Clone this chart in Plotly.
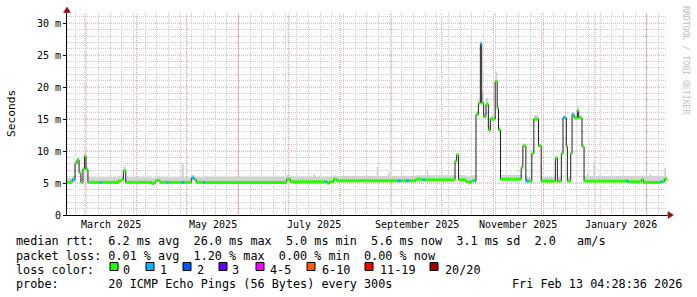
import pandas as pd
import plotly.graph_objects as go

# ---------------- data ----------------
range_start = "2025-02-18 04:28:36"
range_end = "2026-02-13 04:28:36"

seg_start = [
    "2025-02-18 04:28", "2025-02-21 06:00", "2025-02-23 00:00", "2025-02-24 06:00", "2025-02-25 10:00",
    "2025-02-26 12:00", "2025-02-27 18:00", "2025-02-28 18:00", "2025-03-01 14:00", "2025-03-02 18:00",
    "2025-03-10 00:00", "2025-03-11 00:00", "2025-03-21 00:00", "2025-03-22 16:00", "2025-03-24 00:00",
    "2025-03-25 10:00", "2025-04-10 00:00", "2025-04-11 12:00", "2025-04-12 12:00", "2025-04-15 00:00",
    "2025-04-19 00:00", "2025-04-20 00:00", "2025-04-28 00:00", "2025-04-29 06:00", "2025-05-04 00:00",
    "2025-05-05 12:00", "2025-05-06 18:00", "2025-05-11 00:00", "2025-05-12 00:00", "2025-06-30 00:00",
    "2025-07-02 06:00", "2025-07-16 00:00", "2025-07-17 00:00", "2025-07-23 06:00", "2025-07-24 06:00",
    "2025-07-25 18:00", "2025-07-28 06:00", "2025-07-30 00:00", "2025-08-23 00:00", "2025-08-24 00:00",
    "2025-08-30 00:00", "2025-08-31 00:00", "2025-09-04 12:00", "2025-09-06 12:00", "2025-09-09 12:00",
    "2025-09-11 06:00", "2025-09-15 12:00", "2025-09-18 12:00", "2025-09-19 12:00", "2025-09-21 00:00",
    "2025-09-22 00:00", "2025-09-23 00:00", "2025-10-09 00:00", "2025-10-10 00:00", "2025-10-11 03:00",
    "2025-10-15 14:00", "2025-10-17 10:00", "2025-10-18 08:00", "2025-10-19 05:00", "2025-10-20 14:00",
    "2025-10-21 14:00", "2025-10-23 00:00", "2025-10-24 05:00", "2025-10-25 00:00", "2025-10-26 05:00",
    "2025-10-27 14:00", "2025-10-29 00:00", "2025-10-30 05:00", "2025-11-02 02:00", "2025-11-03 07:00",
    "2025-11-04 02:00", "2025-11-05 07:00", "2025-11-17 17:00", "2025-11-18 17:00", "2025-11-20 12:00",
    "2025-11-22 02:00", "2025-11-24 02:00", "2025-11-25 07:00", "2025-11-28 02:00", "2025-11-29 17:00",
    "2025-12-08 05:00", "2025-12-09 10:00", "2025-12-11 19:00", "2025-12-12 19:00", "2025-12-14 05:00",
    "2025-12-14 19:00", "2025-12-15 10:00", "2025-12-17 10:00", "2025-12-18 05:00", "2025-12-19 10:00",
    "2025-12-21 10:00", "2025-12-22 05:00", "2025-12-24 05:00", "2025-12-25 10:00", "2025-12-27 00:00",
    "2025-12-28 00:00", "2025-12-31 00:00", "2026-01-01 00:00", "2026-01-03 12:00", "2026-01-04 12:00",
    "2026-01-19 20:00", "2026-01-21 00:00", "2026-01-28 20:00", "2026-01-30 00:00", "2026-02-02 12:00",
    "2026-02-03 12:00", "2026-02-09 10:00", "2026-02-10 14:00", "2026-02-11 14:00", "2026-02-12 14:00",
]

median_ms = [
    5.1, 5.5, 8.1, 8.6, 6.6,
    5.1, 7.2, 9.2, 7.1, 5.1,
    5.1, 5.1, 5.3, 5.5, 6.9,
    5.1, 4.9, 5.1, 5.4, 5.1,
    5.1, 5.1, 5.1, 5.1, 5.8,
    5.5, 5.1, 5.1, 5.1, 5.6,
    5.2, 5.2, 5.2, 5.2, 5.0,
    5.2, 5.6, 5.35, 5.35, 5.35,
    5.35, 5.35, 5.35, 5.35, 5.35,
    5.35, 5.6, 5.5, 5.5, 5.5,
    5.5, 5.5, 8.4, 9.4, 5.5,
    5.2, 5.0, 5.2, 5.4, 5.3,
    15.7, 17.5, 26.8, 17.5, 15.4,
    17.3, 13.3, 15.0, 20.9, 16.7,
    13.3, 5.6, 7.4, 10.8, 5.3,
    5.3, 9.6, 15.0, 10.8, 5.3,
    8.9, 5.3, 9.6, 15.2, 15.2,
    10.7, 5.3, 9.6, 15.7, 15.2,
    16.3, 15.2, 10.7, 5.3, 5.3,
    5.3, 5.3, 5.3, 5.3, 5.3,
    5.3, 5.2, 5.5, 5.1, 5.1,
    5.1, 5.2, 5.2, 5.6, 5.6,
]

lost_pings = [
    0, 1, 0, 0, 0,
    0, 0, 0, 0, 0,
    1, 0, 0, 0, 0,
    0, 0, 0, 0, 0,
    1, 0, 1, 0, 1,
    0, 0, 1, 0, 0,
    0, 0, 0, 1, 0,
    0, 0, 0, 0, 0,
    0, 0, 1, 0, 1,
    0, 0, 0, 1, 0,
    0, 0, 0, 0, 0,
    0, 0, 0, 0, 1,
    0, 0, 1, 0, 0,
    0, 0, 0, 0, 0,
    0, 0, 0, 0, 1,
    0, 0, 0, 0, 0,
    0, 0, 0, 1, 0,
    0, 0, 0, 1, 0,
    0, 0, 0, 0, 0,
    0, 0, 0, 0, 0,
    1, 0, 0, 0, 0,
    0, 1, 0, 0, 0,
]

smoke_max_ms = [
    5.8, 6.1, 8.5, 8.9, 7.0,
    5.8, 7.6, 9.4, 7.5, 5.9,
    5.9, 5.9, 6.0, 6.1, 7.6,
    5.9, 5.8, 5.9, 6.0, 5.9,
    5.9, 5.9, 8.1, 5.9, 6.3,
    6.0, 5.9, 5.9, 6.0, 6.3,
    6.0, 6.4, 6.0, 6.0, 6.0,
    6.0, 6.2, 6.1, 7.5, 6.1,
    6.7, 6.1, 6.1, 6.1, 6.1,
    6.1, 6.2, 6.2, 6.2, 6.2,
    7.0, 6.2, 8.8, 9.7, 6.2,
    6.1, 6.1, 6.1, 6.2, 6.2,
    16.2, 18.0, 27.3, 19.4, 16.0,
    18.3, 13.9, 15.5, 22.4, 17.2,
    13.8, 6.3, 7.8, 11.2, 6.0,
    6.0, 10.0, 15.6, 11.2, 6.0,
    9.2, 6.0, 10.0, 15.6, 15.6,
    11.1, 6.0, 10.0, 16.1, 15.6,
    17.0, 15.6, 11.1, 6.1, 6.5,
    6.1, 8.3, 6.1, 6.3, 6.1,
    6.1, 6.1, 6.2, 6.1, 6.4,
    6.1, 6.1, 6.1, 7.4, 6.1,
]

x_label_months = ["2025-03-01", "2025-05-01", "2025-07-01", "2025-09-01", "2025-11-01", "2026-01-01"]
x_label_text = ["March 2025", "May 2025", "July 2025", "September 2025", "November 2025", "January 2026"]
y_tick_vals = [0, 5, 10, 15, 20, 25, 30]
y_tick_text = ["0", "5 m", "10 m", "15 m", "20 m", "25 m", "30 m"]

legend_rtt = "median rtt:  6.2 ms avg  26.0 ms max  5.0 ms min  5.6 ms now  3.1 ms sd  2.0   am/s"
legend_loss = "packet loss: 0.01 % avg  1.20 % max  0.00 % min  0.00 % now"
loss_color_title = "loss color:"
loss_bins = ["0", "1", "2", "3", "4-5", "6-10", "11-19", "20/20"]
loss_bin_colors = ["#26ff00", "#00b8ff", "#0059ff", "#5e00ff", "#ff00ff", "#ff5e00", "#ff0000", "#a10000"]
probe_text = "probe:       20 ICMP Echo Pings (56 Bytes) every 300s"
stamp_text = "Fri Feb 13 04:28:36 2026"
y_title = "Seconds"
watermark = "RRDTOOL / TOBI OETIKER"

# ---------------- geometry (pixels) ----------------
W, H = 697, 297
PL, PR, PT, PB = 67, 667, 13, 215
MONO = "DejaVu Sans Mono"
GRID_MINOR = "#cdcdcd"
GRID_MAJOR = "#ee8f8f"
ARROW = "#961010"
DOTS = "1px,1px"
Y_MAX = 31.6


def px(x):
    return (x - PL) / (PR - PL)


def py(y):
    return (PB - y) / (PB - PT)


def nb(s):
    return s.replace(" ", "\u00a0")


n = len(seg_start)
assert n == len(median_ms) == len(lost_pings) == len(smoke_max_ms)

step_x = seg_start + [range_end]
step_y = median_ms + [median_ms[-1]]
smoke_y = smoke_max_ms + [smoke_max_ms[-1]]
seg_end = seg_start[1:] + [range_end]

fig = go.Figure()

# smoke band
fig.add_trace(go.Scatter(x=step_x, y=step_y, mode="lines", line=dict(width=0, shape="hv"),
                         hoverinfo="skip", showlegend=False))
fig.add_trace(go.Scatter(x=step_x, y=smoke_y, mode="lines", line=dict(width=0, shape="hv"),
                         fill="tonexty", fillcolor="#d2d2d2", hoverinfo="skip", showlegend=False))
# thin dark median line
fig.add_trace(go.Scatter(x=step_x, y=step_y, mode="lines",
                         line=dict(width=1, color="#202020", shape="hv"),
                         hoverinfo="skip", showlegend=False))
# colored median bands per loss level
for level in sorted(set(lost_pings)):
    xs, ys = [], []
    for i in range(n):
        if lost_pings[i] == level:
            xs += [seg_start[i], seg_end[i], None]
            ys += [median_ms[i], median_ms[i], None]
    fig.add_trace(go.Scatter(x=xs, y=ys, mode="lines",
                             line=dict(width=3, color=loss_bin_colors[level]),
                             hoverinfo="skip", showlegend=False, connectgaps=False))

fig.update_layout(
    width=W, height=H,
    margin=dict(l=PL, r=W - PR, t=PT, b=H - PB),
    paper_bgcolor="white", plot_bgcolor="white",
    showlegend=False,
    font=dict(family=MONO, size=10, color="black"),
    xaxis=dict(
        type="date", range=[range_start, range_end], fixedrange=True,
        showticklabels=False, ticks="", showgrid=False,
        minor=dict(tick0="2025-02-23", dtick=7 * 86400000, showgrid=True,
                   gridcolor=GRID_MINOR, gridwidth=1, griddash=DOTS),
        showline=True, linecolor="black", linewidth=1, zeroline=False,
    ),
    yaxis=dict(
        range=[0, Y_MAX], fixedrange=True,
        tickmode="array", tickvals=y_tick_vals, ticktext=y_tick_text,
        tickfont=dict(family=MONO, size=10, color="black"),
        showgrid=False,
        minor=dict(tick0=0, dtick=1, showgrid=True, gridcolor=GRID_MINOR,
                   gridwidth=1, griddash=DOTS),
        showline=True, linecolor="black", linewidth=1, zeroline=False,
        ticks="outside", ticklen=3, tickcolor="black",
    ),
)

shapes = []
# major grid: month starts (vertical) and labelled values (horizontal), above minor grid
for d in pd.date_range("2025-03-01", range_end, freq="MS"):
    shapes.append(dict(type="line", xref="x", yref="paper", x0=d.strftime("%Y-%m-%d"),
                       x1=d.strftime("%Y-%m-%d"), y0=0, y1=1, layer="between",
                       line=dict(color=GRID_MAJOR, width=1, dash=DOTS)))
for v in y_tick_vals[1:]:
    shapes.append(dict(type="line", xref="paper", yref="y", x0=0, x1=1, y0=v, y1=v,
                       layer="between", line=dict(color=GRID_MAJOR, width=1, dash=DOTS)))

# axis extensions and arrows
shapes.append(dict(type="line", xref="paper", yref="paper", x0=px(67), x1=px(67), y0=py(PT), y1=py(10),
                   line=dict(color="black", width=1)))
shapes.append(dict(type="path", xref="paper", yref="paper",
                   path=f"M {px(63.5)},{py(12.5)} L {px(70.5)},{py(12.5)} L {px(67)},{py(7)} Z",
                   fillcolor=ARROW, line=dict(color=ARROW, width=0.5)))
shapes.append(dict(type="line", xref="paper", yref="paper", x0=px(PR), x1=px(669), y0=py(PB), y1=py(PB),
                   line=dict(color="black", width=1)))
shapes.append(dict(type="path", xref="paper", yref="paper",
                   path=f"M {px(668)},{py(211.5)} L {px(668)},{py(218.5)} L {px(673.5)},{py(215)} Z",
                   fillcolor=ARROW, line=dict(color=ARROW, width=0.5)))

# loss color boxes
box_left = [110, 146, 183, 219, 256, 307, 365, 430]
label_left = [123, 160, 197, 232, 270, 322, 380, 445]
for bl, col in zip(box_left, loss_bin_colors):
    shapes.append(dict(type="rect", xref="paper", yref="paper",
                       x0=px(bl), x1=px(bl + 8), y0=py(262.5), y1=py(270.5),
                       fillcolor=col, line=dict(color="black", width=1)))

LEG = 11.8
annotations = []


def ann(text, x, y, size=LEG, anchor="left", color="black", angle=0, family=MONO):
    annotations.append(dict(text=nb(text), x=px(x), y=py(y), xref="paper", yref="paper",
                            xanchor=anchor, yanchor="middle", showarrow=False,
                            textangle=angle, borderpad=0, borderwidth=0,
                            font=dict(family=family, size=size, color=color)))


# month labels, centred in their month on the date axis
for m, lab in zip(x_label_months, x_label_text):
    s = pd.Timestamp(m)
    e = s + pd.offsets.MonthBegin(1)
    mid = (s + (e - s) / 2).strftime("%Y-%m-%d %H:%M")
    annotations.append(dict(text=nb(lab), x=mid, y=py(224.5), xref="x", yref="paper",
                            xanchor="center", yanchor="middle", showarrow=False,
                            borderpad=0, borderwidth=0,
                            font=dict(family=MONO, size=10, color="black")))

ann(legend_rtt, 16, 241)
ann(legend_loss, 16, 255.5)
ann(loss_color_title, 16, 269.5)
for lab, ll in zip(loss_bins, label_left):
    ann(lab, ll, 269.5)
ann(probe_text, 16, 283.5)
ann(stamp_text, 682, 283.5, anchor="right")
annotations.append(dict(text=y_title, x=px(11), y=py(114), xref="paper", yref="paper",
                        xanchor="center", yanchor="middle", showarrow=False, textangle=-90,
                        font=dict(family=MONO, size=11.2, color="black")))
annotations.append(dict(text=nb(watermark), x=px(686), y=py(60), xref="paper", yref="paper",
                        xanchor="center", yanchor="middle", showarrow=False, textangle=90,
                        font=dict(family=MONO, size=8.2, color="#c0c0c0")))

fig.update_layout(shapes=shapes, annotations=annotations)
fig.write_html("out.html")
